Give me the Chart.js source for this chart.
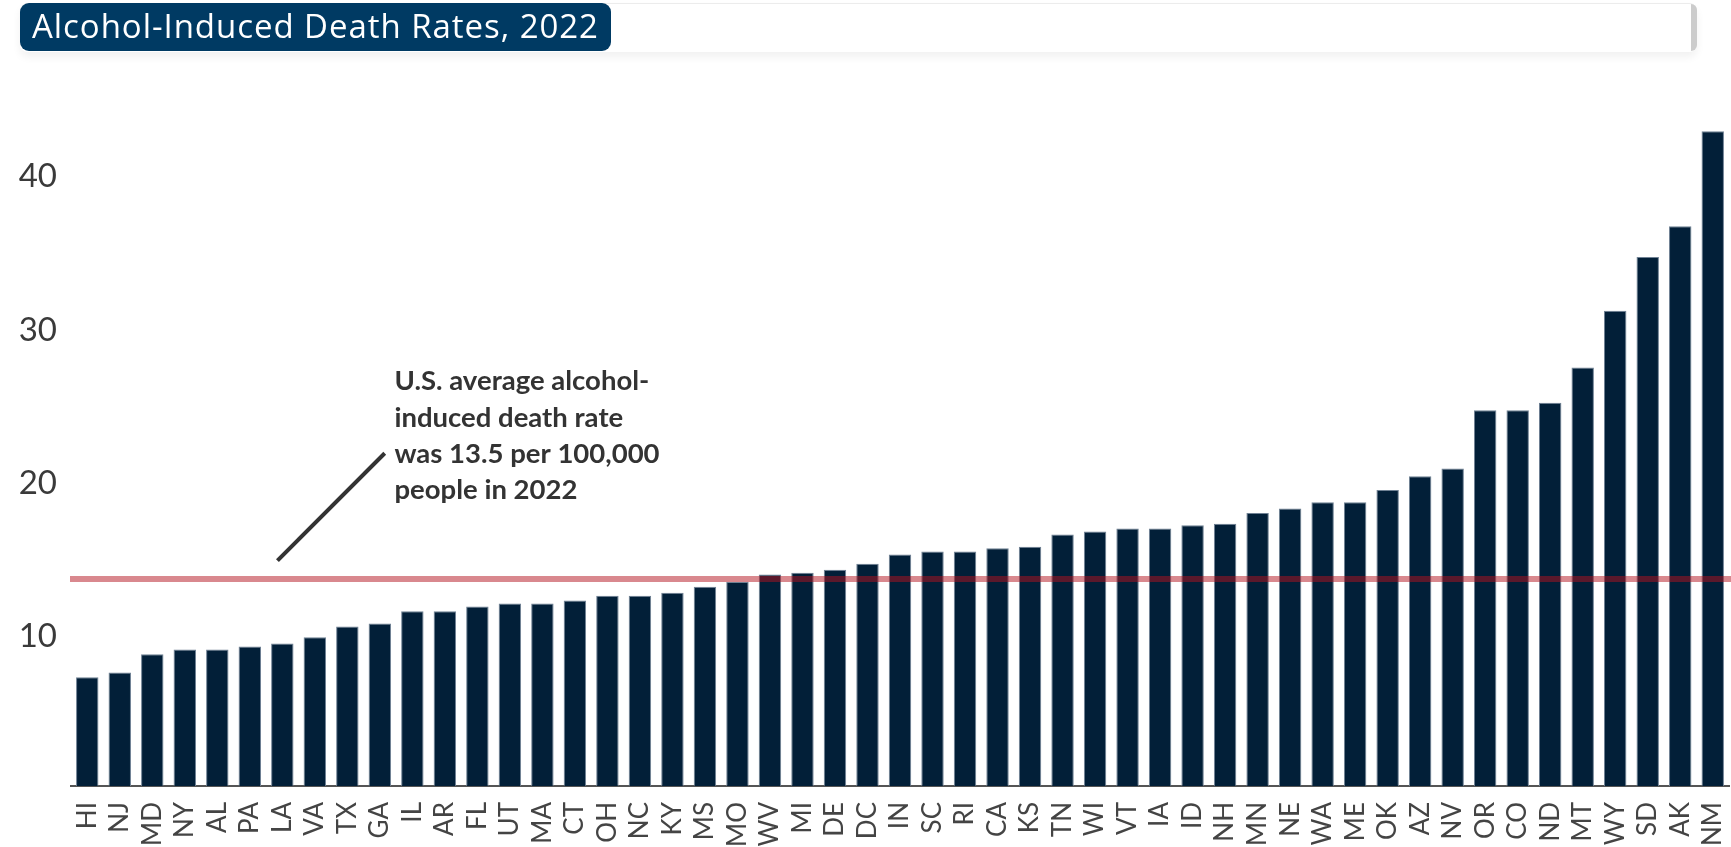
<!DOCTYPE html>
<html>
<head>
<meta charset="utf-8">
<title>Alcohol-Induced Death Rates, 2022</title>
<script src="https://cdn.jsdelivr.net/npm/chart.js@4"></script>
<style>
    html, body {
        margin: 0;
        padding: 0;
        background: #ffffff;
        overflow: hidden;
    }
    #wrap {
        position: relative;
        width: 1731px;
        height: 847px;
    }
    #header {
        position: absolute;
        left: 20px;
        top: 3px;
        width: 1677px;
        height: 48px;
        background: #ffffff;
        border-top: 1px solid #ececec;
        border-radius: 8px;
        box-shadow: 0 5px 9px rgba(0, 0, 0, 0.06);
    }
    #header .knob {
        position: absolute;
        right: 0;
        top: 0;
        width: 6px;
        height: 47px;
        background: #cccccc;
        border-radius: 0 8px 8px 0;
    }
    #title {
        position: absolute;
        left: 20px;
        top: 3px;
        width: 591px;
        height: 48px;
        background: #003a63;
        border-radius: 9px;
        color: #ffffff;
        font-family: "Open Sans", Lato, sans-serif;
        font-size: 33px;
        line-height: 46px;
        padding-left: 12px;
        box-sizing: border-box;
        white-space: nowrap;
        letter-spacing: 0.95px;
    }
    #chart-box {
        position: absolute;
        left: 0;
        top: 0;
        width: 1731px;
        height: 847px;
    }
</style>
</head>
<body>
<div id="wrap">
    <div id="chart-box"><canvas id="deathChart"></canvas></div>
    <div id="header"><div class="knob"></div></div>
    <div id="title">Alcohol-Induced Death Rates, 2022</div>
</div>
<script>
// States, sorted by rate
const states = ['HI', 'NJ', 'MD', 'NY', 'AL', 'PA', 'LA', 'VA', 'TX', 'GA',
    'IL', 'AR', 'FL', 'UT', 'MA', 'CT', 'OH', 'NC', 'KY', 'MS',
    'MO', 'WV', 'MI', 'DE', 'DC', 'IN', 'SC', 'RI', 'CA', 'KS',
    'TN', 'WI', 'VT', 'IA', 'ID', 'NH', 'MN', 'NE', 'WA', 'ME',
    'OK', 'AZ', 'NV', 'OR', 'CO', 'ND', 'MT', 'WY', 'SD', 'AK', 'NM'];

// Deaths per 100,000 people
const rates = [7.1, 7.4, 8.6, 8.9, 8.9, 9.1, 9.3, 9.7, 10.4, 10.6,
    11.4, 11.4, 11.7, 11.9, 11.9, 12.1, 12.4, 12.4, 12.6, 13.0,
    13.3, 13.8, 13.9, 14.1, 14.5, 15.1, 15.3, 15.3, 15.5, 15.6,
    16.4, 16.6, 16.8, 16.8, 17.0, 17.1, 17.8, 18.1, 18.5, 18.5,
    19.3, 20.2, 20.7, 24.5, 24.5, 25.0, 27.3, 31.0, 34.5, 36.5, 42.7];

// Y axis tick labels
const yTicks = [10, 20, 30, 40];

// U.S. average
const usAverage = 13.5;

// Annotation text and its pointer, placed in data units (category index, rate)
const noteLines = ['U.S. average alcohol-', 'induced death rate', 'was 13.5 per 100,000', 'people in 2022'];
const noteAnchor = { index: 9.45, value: 25.8 };
const pointerFrom = { index: 5.85, value: 14.7 };
const pointerTo = { index: 9.15, value: 21.7 };

// Draws the average line on top of the bars, plus the note
const averagePlugin = {
    id: 'averageLine',
    afterDatasetsDraw(chart) {
        const c = chart.ctx;
        const x = chart.scales.x;
        const y = chart.scales.y;
        const yAvg = y.getPixelForValue(usAverage);

        c.save();
        c.strokeStyle = 'rgba(179, 18, 30, 0.5)';
        c.lineWidth = 6;
        c.beginPath();
        c.moveTo(chart.chartArea.left - 1, yAvg);
        c.lineTo(chart.width, yAvg);
        c.stroke();

        // pointer
        c.strokeStyle = '#333333';
        c.lineWidth = 4;
        c.beginPath();
        c.moveTo(x.getPixelForValue(pointerFrom.index), y.getPixelForValue(pointerFrom.value));
        c.lineTo(x.getPixelForValue(pointerTo.index), y.getPixelForValue(pointerTo.value));
        c.stroke();

        // note text
        c.fillStyle = '#333333';
        c.font = 'bold 27.5px Lato, "Open Sans", sans-serif';
        c.textBaseline = 'alphabetic';
        c.textAlign = 'left';
        const tx = x.getPixelForValue(noteAnchor.index);
        const ty = y.getPixelForValue(noteAnchor.value);
        noteLines.forEach((line, i) => {
            c.fillText(line, tx, ty + i * 36.3);
        });
        c.restore();
    }
};

const ctx = document.getElementById('deathChart').getContext('2d');

const data = {
    labels: states,
    datasets: [{
        label: 'Alcohol-induced deaths per 100,000',
        data: rates,
        backgroundColor: '#021f38',
        borderColor: '#6f8194',
        borderWidth: 1,
        barPercentage: 0.69,
        categoryPercentage: 1.0
    }]
};

const config = {
    type: 'bar',
    data: data,
    plugins: [averagePlugin],
    options: {
        responsive: true,
        maintainAspectRatio: false,
        animation: false,
        layout: {
            padding: { top: 96, right: 2, bottom: 0, left: 0 }
        },
        plugins: {
            legend: { display: false },
            tooltip: { enabled: false }
        },
        scales: {
            x: {
                grid: { display: false },
                border: { display: true, color: '#555555', width: 2 },
                ticks: {
                    autoSkip: false,
                    maxRotation: 90,
                    minRotation: 90,
                    padding: 8,
                    color: '#444444',
                    font: { family: 'Lato, "Open Sans", sans-serif', size: 26 }
                },
                afterFit(scale) {
                    scale.height = 61;
                    scale.paddingLeft = 0;
                    scale.paddingRight = 0;
                }
            },
            y: {
                min: 0,
                max: 45,
                grid: { display: false },
                border: { display: false },
                ticks: {
                    stepSize: 10,
                    padding: 6,
                    labelOffset: 4,
                    color: '#3a3a3a',
                    font: { family: 'Lato, "Open Sans", sans-serif', size: 33 },
                    callback: (value) => yTicks.includes(value) ? value : ''
                },
                afterFit(scale) {
                    scale.width = 71;
                }
            }
        }
    }
};

new Chart(ctx, config);
</script>
</body>
</html>
